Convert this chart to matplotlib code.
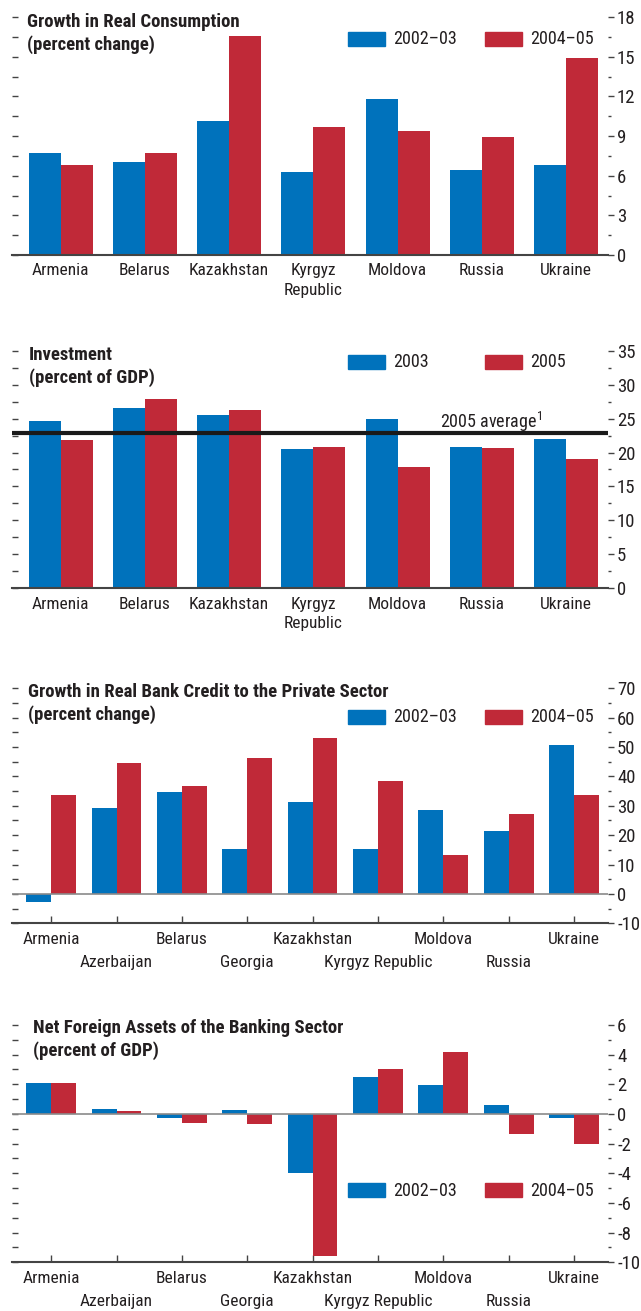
import numpy as np
import matplotlib
matplotlib.use('Agg')
import matplotlib.pyplot as plt
from matplotlib import font_manager as fm
from matplotlib.patches import Rectangle
from matplotlib.ticker import MultipleLocator

# condensed face if there is one, else Arial-like Liberation Sans a bit smaller
installed = set(f.name for f in fm.fontManager.ttflist)
if 'Liberation Sans Narrow' in installed:
    FAMILY, FS, YFS, TFS = 'Liberation Sans Narrow', 13, 13.5, 13
elif 'Roboto Condensed' in installed:
    FAMILY, FS, YFS, TFS = 'Roboto Condensed', 12.5, 13.5, 13.5
else:
    FAMILY, FS, YFS, TFS = 'Liberation Sans', 11.5, 11.5, 11

plt.rcParams['font.family'] = [FAMILY, 'DejaVu Sans']
plt.rcParams['mathtext.fontset'] = 'custom'
plt.rcParams['mathtext.rm'] = FAMILY

# data
cons_countries = ['Armenia', 'Belarus', 'Kazakhstan', 'Kyrgyz\nRepublic', 'Moldova', 'Russia', 'Ukraine']
cons_0203 = [7.7, 7.0, 10.1, 6.3, 11.8, 6.4, 6.8]
cons_0405 = [6.8, 7.7, 16.6, 9.7, 9.4, 8.9, 14.9]

inv_countries = cons_countries
inv_2003 = [24.6, 26.6, 25.5, 20.5, 24.9, 20.8, 22.0]
inv_2005 = [21.8, 27.9, 26.3, 20.8, 17.9, 20.7, 19.0]
inv_avg_2005 = 22.9

credit_countries = ['Armenia', 'Azerbaijan', 'Belarus', 'Georgia', 'Kazakhstan',
                    'Kyrgyz Republic', 'Moldova', 'Russia', 'Ukraine']
credit_0203 = [-2.6, 29.4, 34.7, 15.3, 31.3, 15.3, 28.6, 21.4, 50.7]
credit_0405 = [33.7, 44.6, 36.7, 46.3, 53.1, 38.5, 13.3, 27.2, 33.7]

nfa_countries = credit_countries
nfa_0203 = [2.1, 0.35, -0.25, 0.27, -3.95, 2.5, 1.95, 0.6, -0.3]
nfa_0405 = [2.1, 0.2, -0.6, -0.65, -9.55, 3.05, 4.2, -1.35, -2.0]

BLUE = '#0072bc'
RED = '#c02938'
TXT = '#231f20'

W, H = 641, 1311
fig = plt.figure(figsize=(W / 100.0, H / 100.0), dpi=100)

def px_rect(l, r, top, bot):
    return [l / W, 1 - bot / H, (r - l) / W, (bot - top) / H]

def fig_xy(x, y):
    return (x / W, 1 - y / H)

def panel(rect, cats, s1, s2, ylim, major, minor, stagger=False):
    ax = fig.add_axes(rect)
    x = np.arange(len(cats))
    w = 0.38
    ax.bar(x - w / 2, s1, w, color=BLUE, zorder=2)
    ax.bar(x + w / 2, s2, w, color=RED, zorder=2)
    ax.set_ylim(*ylim)
    if stagger:
        ax.set_xlim(-0.6, len(cats) - 0.48)
    else:
        ax.set_xlim(-0.58, len(cats) - 0.5)
    for s in ['top', 'left', 'right']:
        ax.spines[s].set_visible(False)
    ax.spines['bottom'].set_color('#444444')
    ax.spines['bottom'].set_linewidth(1.5)
    ax.patch.set_alpha(0)

    # left: short dashes on every tick
    ax.yaxis.set_major_locator(MultipleLocator(minor))
    ax.tick_params(axis='y', which='major', direction='in', length=4, width=1,
                   color='#444444', labelleft=False)

    # right: labelled axis
    ax2 = ax.twinx()
    ax2.set_ylim(*ylim)
    for s in ax2.spines.values():
        s.set_visible(False)
    ax2.yaxis.set_major_locator(MultipleLocator(major))
    ax2.yaxis.set_minor_locator(MultipleLocator(minor))
    ax2.tick_params(axis='y', which='major', direction='out', length=4.5, width=1,
                    color='#444444', labelsize=YFS, labelcolor=TXT, pad=2)
    ax2.tick_params(axis='y', which='minor', direction='out', length=2.2, width=1,
                    color='#444444')
    ax2.set_yticks(ax2.get_yticks())
    ax2.set_yticklabels(['%d' % v for v in ax2.get_yticks()])
    ax2.set_ylim(*ylim)

    if stagger:
        # two rows of names: even ones on major ticks, odd ones on minor ticks further down
        ax.set_xticks(x[::2])
        ax.set_xticklabels(cats[::2], fontsize=FS, color=TXT)
        ax.set_xticks(x[1::2], minor=True)
        ax.set_xticklabels(cats[1::2], minor=True, fontsize=FS, color=TXT)
        ax.tick_params(axis='x', which='major', direction='in', length=5, width=1,
                       color='#444444', pad=6.5)
        ax.tick_params(axis='x', which='minor', direction='in', length=5, width=1,
                       color='#444444', pad=22.5)
        ax.axhline(0, color='#8a8a8a', lw=1.2, zorder=3)
    else:
        ax.set_xticks(x)
        ax.set_xticklabels(cats, fontsize=FS, color=TXT, linespacing=1.4)
        ax.tick_params(axis='x', length=0, pad=6)
    return ax

def title(x, y, l1, l2):
    fig.text(*fig_xy(x, y), l1, fontsize=TFS, fontweight='bold', color=TXT, va='baseline')
    fig.text(*fig_xy(x, y + 22.7), l2, fontsize=TFS, fontweight='bold', color=TXT, va='baseline')

def legend(ytop, t1, t2):
    for xp, col, t in [(348, BLUE, t1), (485, RED, t2)]:
        fig.patches.append(Rectangle(fig_xy(xp, ytop + 14), 37 / W, 14 / H,
                                     transform=fig.transFigure, color=col))
        fig.text(*fig_xy(xp + 45, ytop + 7.5), t, fontsize=FS + 0.5, color=TXT, va='center')

# panel 1
ax1 = panel(px_rect(12, 608, 17, 255), cons_countries, cons_0203, cons_0405, (0, 18), 3, 1.5)
title(27, 26.7, 'Growth in Real Consumption', '(percent change)')
legend(32, '2002\u201303', '2004\u201305')

# panel 2
ax2 = panel(px_rect(12, 608, 350.7, 588.3), inv_countries, inv_2003, inv_2005, (0, 35), 5, 2.5)
ax2.axhline(inv_avg_2005, color='#1a1a1a', lw=3, zorder=4)
ax2.text(4.5, inv_avg_2005 + 0.66, '2005 average$^{1}$', fontsize=FS + 0.5, color=TXT, va='baseline')
title(29, 360, 'Investment', '(percent of GDP)')
legend(355, '2003', '2005')

# panel 3
ax3 = panel(px_rect(12, 608, 688.3, 923.3), credit_countries, credit_0203, credit_0405, (-10, 70), 10, 5, stagger=True)
title(28, 697.3, 'Growth in Real Bank Credit to the Private Sector', '(percent change)')
legend(710, '2002\u201303', '2004\u201305')

# panel 4
ax4 = panel(px_rect(12, 608, 1025, 1262.3), nfa_countries, nfa_0203, nfa_0405, (-10, 6), 2, 1, stagger=True)
title(32.6, 1032.7, 'Net Foreign Assets of the Banking Sector', '(percent of GDP)')
legend(1183, '2002\u201303', '2004\u201305')

plt.savefig('out.png', dpi=100)
